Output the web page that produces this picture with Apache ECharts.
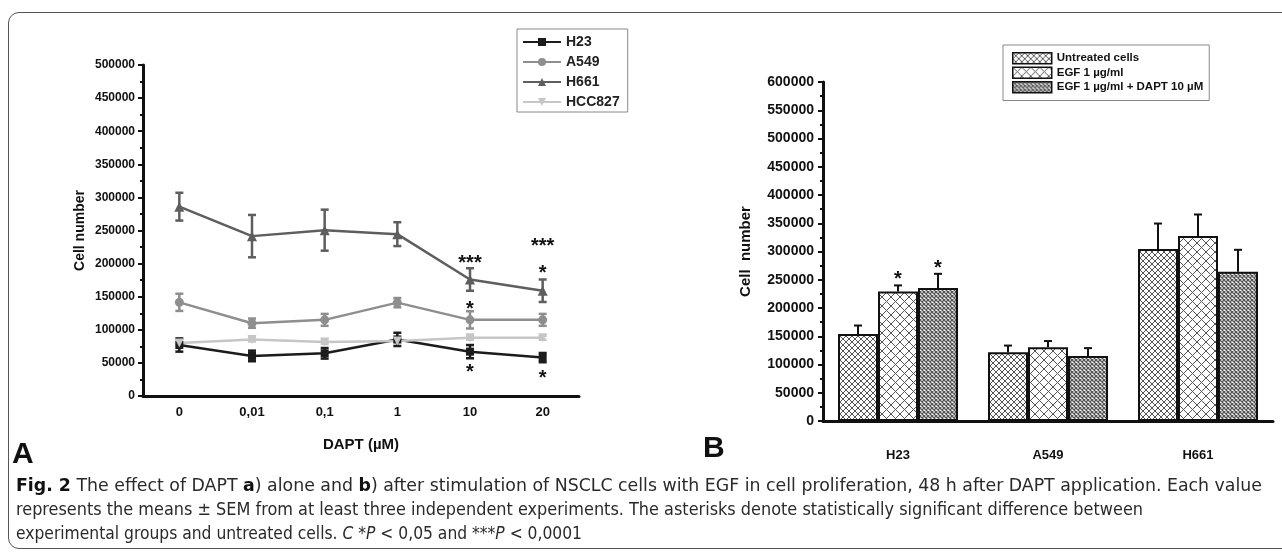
<!DOCTYPE html>
<html><head><meta charset="utf-8">
<script src="https://cdn.jsdelivr.net/npm/echarts@6/dist/echarts.min.js"></script>
<style>
html,body{margin:0;padding:0;background:#fff;}
#wrap{position:relative;width:1282px;height:555px;overflow:hidden;background:#fff;}
#frame{position:absolute;left:8px;top:12px;width:1300px;height:537px;border:1.5px solid #555;border-radius:11px;box-sizing:border-box;}
#chart{position:absolute;left:0;top:0;width:1282px;height:555px;}
#cap{position:absolute;left:16px;top:473px;font-family:"DejaVu Sans Condensed","Liberation Sans Narrow",sans-serif;font-size:18px;line-height:24px;color:#2a2a2a;white-space:nowrap;}
#cap .ln{display:block;transform-origin:0 50%;}
#cap .ln span.in{display:inline-block;}
#cap b{color:#111;}
</style></head>
<body>
<div id="wrap">
<div id="frame"></div>
<div id="chart"></div>
<div id="cap"><span class="ln"><span class="in"><b>Fig. 2</b> The effect of DAPT <b>a</b>) alone and <b>b</b>) after stimulation of NSCLC cells with EGF in cell proliferation, 48 h after DAPT application. Each value</span></span><span class="ln"><span class="in">represents the means ± SEM from at least three independent experiments. The asterisks denote statistically significant difference between</span></span><span class="ln"><span class="in">experimental groups and untreated cells. <i>C</i> *<i>P</i> &lt; 0,05 and ***<i>P</i> &lt; 0,0001</span></span></div>
</div>
<script>
// ---- Panel A data ----
const doseLabels = ['0', '0,01', '0,1', '1', '10', '20'];
const h23Mean = [77000, 60500, 64500, 85500, 67000, 58000];
const h23Sem = [10000, 8000, 8000, 10000, 10000, 7000];
const a549Mean = [141500, 110000, 115000, 141000, 115000, 115000];
const a549Sem = [13000, 7000, 9000, 7000, 13000, 9000];
const h661Mean = [286000, 241500, 250500, 244500, 176000, 159000];
const h661Sem = [21000, 32000, 31000, 18000, 17000, 17000];
const hcc827Mean = [80000, 85500, 81500, 83000, 88000, 88000];
const hcc827Sem = [3000, 3000, 3000, 3000, 3000, 3000];
const leftStars = [['10', 207000, '***'], ['20', 234000, '***'], ['10', 137500, '*'], ['20', 192000, '*'], ['10', 43800, '*'], ['20', 34700, '*']];

// ---- Panel B data ----
const cellLines = ['H23', 'A549', 'H661'];
const treatNames = ['Untreated cells', 'EGF 1 µg/ml', 'EGF 1 µg/ml + DAPT 10 µM'];
const untreatedMean = [154000, 121500, 304500];
const untreatedSem = [15000, 12000, 45000];
const egfMean = [229000, 130500, 327500];
const egfSem = [11000, 11000, 38000];
const egfDaptMean = [235500, 115000, 264000];
const egfDaptSem = [25000, 14000, 39000];
const rightStars = [['H23', 1, 260000, '*'], ['H23', 2, 278000, '*']];

const FONT = '"Liberation Sans", Arial, sans-serif';

// fit caption lines to the widths they have in the reference
(function () {
  const targets = [1246, 1127, 566];
  document.querySelectorAll('#cap .ln').forEach((l, i) => {
    const w = l.querySelector('.in').getBoundingClientRect().width;
    l.style.transform = 'scaleX(' + (targets[i] / w) + ')';
  });
})();

function makePattern(size, lw, stroke) {
  const c = document.createElement('canvas');
  c.width = size; c.height = size;
  const g = c.getContext('2d');
  g.fillStyle = '#fff'; g.fillRect(0, 0, size, size);
  g.strokeStyle = stroke; g.lineWidth = lw;
  g.beginPath();
  g.moveTo(-1, -1); g.lineTo(size + 1, size + 1);
  g.moveTo(size + 1, -1); g.lineTo(-1, size + 1);
  g.stroke();
  return { image: c, repeat: 'repeat' };
}
const patterns = [makePattern(6, 1, '#555'), makePattern(9, 1, '#555'), makePattern(4, 1.3, '#555')];

function errorSeries(means, sems, color, both) {
  return {
    type: 'custom', xAxisIndex: 0, yAxisIndex: 0, z: 3, silent: true,
    data: means.map((m, i) => [i, both ? m - sems[i] : m, m + sems[i]]),
    renderItem: function (params, api) {
      const hi = api.coord([api.value(0), api.value(2)]);
      const lo = api.coord([api.value(0), api.value(1)]);
      const h = 4, st = { stroke: color, lineWidth: 2.5 };
      return { type: 'group', children: [
        { type: 'line', shape: { x1: hi[0], y1: hi[1], x2: lo[0], y2: lo[1] }, style: st },
        { type: 'line', shape: { x1: hi[0] - h, y1: hi[1], x2: hi[0] + h, y2: hi[1] }, style: st },
        { type: 'line', shape: { x1: lo[0] - h, y1: lo[1], x2: lo[0] + h, y2: lo[1] }, style: st }
      ]};
    }
  };
}

function barErrorSeries(k, means, sems) {
  return {
    type: 'custom', xAxisIndex: 1, yAxisIndex: 1, z: 1, silent: true,
    data: means.map((m, i) => [i, m, m + sems[i]]),
    renderItem: function (params, api) {
      const band = api.size([1, 0])[0];
      const bw = band * 0.8 / 3;
      const off = (k - 1) * bw;
      const hi = api.coord([api.value(0), api.value(2)]);
      const lo = api.coord([api.value(0), api.value(1)]);
      const x = hi[0] + off, st = { stroke: '#111', lineWidth: 2 };
      return { type: 'group', children: [
        { type: 'line', shape: { x1: x, y1: hi[1], x2: x, y2: lo[1] }, style: st },
        { type: 'line', shape: { x1: x - 4, y1: hi[1], x2: x + 4, y2: hi[1] }, style: st }
      ]};
    }
  };
}

const lineCommon = { type: 'line', xAxisIndex: 0, yAxisIndex: 0, z: 4, lineStyle: { width: 2.5 } };
const lineDefs = [
  ['H23', h23Mean, '#1c1c1c', 'rect', 8],
  ['A549', a549Mean, '#8e8e8e', 'circle', 9],
  ['H661', h661Mean, '#5e5e5e', 'triangle', 10],
  ['HCC827', hcc827Mean, '#c6c6c6', 'path://M0,0L2,0L1,1.8Z', 9]
];
const series = [];
[[h23Mean, h23Sem, '#1c1c1c'], [a549Mean, a549Sem, '#8e8e8e'], [h661Mean, h661Sem, '#5e5e5e'], [hcc827Mean, hcc827Sem, '#c6c6c6']]
  .forEach(d => series.push(errorSeries(d[0], d[1], d[2], true)));
lineDefs.forEach(d => series.push(Object.assign({}, lineCommon, {
  name: d[0], data: d[1], symbol: d[3], symbolSize: d[4],
  itemStyle: { color: d[2] }, lineStyle: { color: d[2], width: 2.5 }
})));

const barMeans = [untreatedMean, egfMean, egfDaptMean];
const barSems = [untreatedSem, egfSem, egfDaptSem];
barMeans.forEach((m, k) => series.push({
  type: 'bar', name: treatNames[k], xAxisIndex: 1, yAxisIndex: 1, data: m, z: 2,
  barGap: '0%', barCategoryGap: '20%',
  itemStyle: { color: patterns[k], borderColor: '#111', borderWidth: 2 }
}));
barMeans.forEach((m, k) => series.push(barErrorSeries(k, m, barSems[k])));

// Asterisks
series.push({
  type: 'custom', xAxisIndex: 0, yAxisIndex: 0, z: 6, silent: true,
  data: leftStars.map(s => [doseLabels.indexOf(s[0]), s[1], s[2]]),
  renderItem: function (params, api) {
    const p = api.coord([api.value(0), api.value(1)]);
    return { type: 'text', x: p[0], y: p[1] + 5, style: { text: leftStars[params.dataIndex][2], font: 'bold 20px ' + FONT, fill: '#111', align: 'center', verticalAlign: 'middle' } };
  }
});
series.push({
  type: 'custom', xAxisIndex: 1, yAxisIndex: 1, z: 6, silent: true,
  data: rightStars.map(s => [cellLines.indexOf(s[0]), s[2], s[1]]),
  renderItem: function (params, api) {
    const band = api.size([1, 0])[0];
    const bw = band * 0.8 / 3;
    const p = api.coord([api.value(0), api.value(1)]);
    const k = api.value(2);
    return { type: 'text', x: p[0] + (k - 1) * bw, y: p[1] + 5, style: { text: rightStars[params.dataIndex][3], font: 'bold 20px ' + FONT, fill: '#111', align: 'center', verticalAlign: 'middle' } };
  }
});

const plain = v => String(v);
const axisLine = { show: true, lineStyle: { color: '#111', width: 3 } };
const option = {
  animation: false,
  textStyle: { fontFamily: FONT },
  grid: [
    { left: 143, top: 65, width: 436, height: 331 },
    { left: 823, top: 82, width: 450, height: 339 }
  ],
  xAxis: [
    { type: 'category', gridIndex: 0, data: doseLabels, axisLine: axisLine, axisTick: { show: false },
      axisLabel: { fontWeight: 'bold', fontSize: 13, color: '#111', margin: 10, fontFamily: FONT },
      name: 'DAPT (µM)', nameLocation: 'middle', nameGap: 41,
      nameTextStyle: { fontWeight: 'bold', fontSize: 15, color: '#111', fontFamily: FONT } },
    { type: 'category', gridIndex: 1, data: cellLines, axisLine: axisLine, axisTick: { show: false },
      axisLabel: { fontWeight: 'bold', fontSize: 13, color: '#111', margin: 28, fontFamily: FONT } }
  ],
  yAxis: [
    { type: 'value', gridIndex: 0, min: 0, max: 500000, interval: 50000, axisLine: axisLine,
      axisTick: { show: true, length: 5, lineStyle: { width: 2, color: '#111' } },
      minorTick: { show: true, splitNumber: 2, length: 3, lineStyle: { width: 2, color: '#111' } },
      splitLine: { show: false },
      axisLabel: { fontWeight: 'bold', fontSize: 12, color: '#111', margin: 8, formatter: plain, fontFamily: FONT },
      name: 'Cell number', nameLocation: 'middle', nameGap: 56, nameRotate: 90,
      nameTextStyle: { fontWeight: 'bold', fontSize: 14, color: '#111', fontFamily: FONT } },
    { type: 'value', gridIndex: 1, min: 0, max: 600000, interval: 50000, axisLine: axisLine,
      axisTick: { show: true, length: 5, lineStyle: { width: 2, color: '#111' } },
      minorTick: { show: true, splitNumber: 2, length: 3, lineStyle: { width: 2, color: '#111' } },
      splitLine: { show: false },
      axisLabel: { fontWeight: 'bold', fontSize: 14, color: '#111', margin: 9, formatter: plain, fontFamily: FONT },
      name: 'Cell  number', nameLocation: 'middle', nameGap: 70, nameRotate: 90,
      nameTextStyle: { fontWeight: 'bold', fontSize: 15, color: '#111', fontFamily: FONT } }
  ],
  legend: [
    { data: lineDefs.map(d => d[0]), orient: 'vertical', left: 517, top: 29,
      borderColor: '#888', borderWidth: 1, padding: [6, 8, 3, 5],
      itemWidth: 38, itemHeight: 10, itemGap: 6,
      textStyle: { fontWeight: 'bold', fontSize: 14, color: '#222', lineHeight: 14, fontFamily: FONT } },
    { data: treatNames, orient: 'vertical', left: 1003, top: 45,
      borderColor: '#888', borderWidth: 1, padding: [7, 6, 7, 9],
      itemWidth: 39, itemHeight: 11, itemGap: 2, icon: 'rect',
      itemStyle: { borderWidth: 1.5, borderColor: '#111' },
      textStyle: { fontWeight: 'bold', fontSize: 11.5, color: '#111', lineHeight: 11, fontFamily: FONT } }
  ],
  graphic: [
    { type: 'text', left: 12, top: 440, style: { text: 'A', font: 'bold 30px ' + FONT, fill: '#111' } },
    { type: 'text', left: 703, top: 434, style: { text: 'B', font: 'bold 30px ' + FONT, fill: '#111' } }
  ],
  series: series
};
const chart = echarts.init(document.getElementById('chart'), null, { renderer: 'canvas' });
chart.setOption(option);
</script>
</body></html>
